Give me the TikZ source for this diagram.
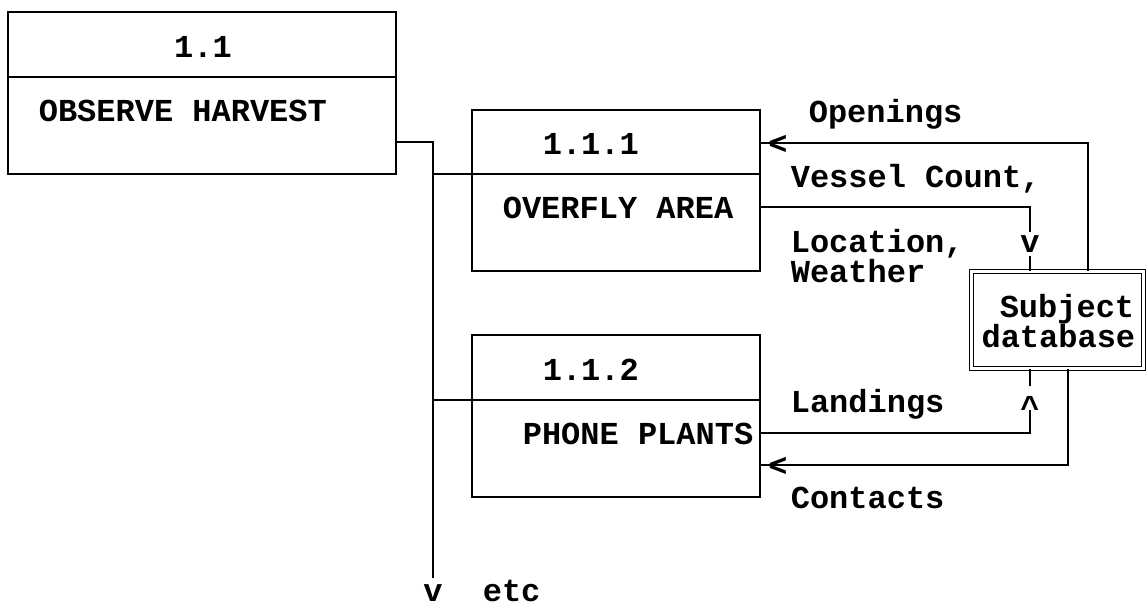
\documentclass[tikz,border=0pt]{standalone}
\usepackage{fontspec}
\setmainfont{Liberation Mono}
\begin{document}
\begin{tikzpicture}[x=1pt,y=-1pt,line width=1.6pt,
  box/.style={draw, rectangle, inner sep=0},
  dbbox/.style={draw, rectangle, inner sep=0, double, double distance=2.6pt, line width=1.3pt},
  txt/.style={inner sep=0, anchor=base west, font=\fontsize{32}{32}\selectfont\bfseries},
  ctxt/.style={inner sep=0, anchor=base, font=\fontsize{32}{32}\selectfont\bfseries}]
\useasboundingbox (0,0) rectangle (1147,606);
% boxes
\node[box, minimum width=388pt, minimum height=162pt] (b11) at (202,93) {};
\node[box, minimum width=288pt, minimum height=161pt] (b111) at (616,190.5) {};
\node[box, minimum width=288pt, minimum height=162pt] (b112) at (616,416) {};
\node[dbbox, minimum width=172pt, minimum height=97pt] (db) at (1057.5,320) {};
% dividers
\coordinate (d11) at (8,77);
\coordinate (d111) at (472,174);
\coordinate (d112) at (472,400);
\draw (b11.west |- d11) -- (b11.east |- d11);
\draw (b111.west |- d111) -- (b111.east |- d111);
\draw (b112.west |- d112) -- (b112.east |- d112);
% box texts
\node[ctxt] (t11) at (203,57) {1.1};
\node[txt] (n11) at (38,121) {OBSERVE HARVEST};
\node[txt] (t111) at (542,154) {1.1.1};
\node[txt] (n111) at (502,218) {OVERFLY AREA};
\node[txt] (t112) at (542,380) {1.1.2};
\node[txt] (n112) at (522,444) {PHONE PLANTS};
\node[txt, anchor=base east] (s1) at (1135,317) {Subject};
\node[txt, anchor=base east] (s2) at (1136,347) {database};
% main trunk
\coordinate (j) at (433,142);
\node[ctxt] (vb) at (433,601) {v};
\node[txt] (etc) at (482,601) {etc};
\coordinate (trunkend) at (433,578);
\draw (b11.east |- j) -- (j) -- (trunkend);
\draw (j |- d111) -- (d111);
\draw (j |- d112) -- (d112);
% Openings
\coordinate (op) at (1088,143);
\draw (b111.east |- op) -- (op) -- (op |- db.north);
\node[ctxt] (lt1) at (778,154) {<};
\node[txt] (lop) at (808,122) {Openings};
% Vessel count
\coordinate (vc) at (1030,207);
\coordinate (vc2) at (1030,232);
\coordinate (vc3) at (1030,256);
\draw (b111.east |- vc) -- (vc) -- (vc2);
\draw (vc3) -- (vc3 |- db.north);
\node[ctxt] (v1) at (1030,252) {v};
\node[txt] (lvc) at (790,187) {Vessel Count,};
\node[txt] (llo) at (790,252) {Location,};
\node[txt] (lwe) at (790,282) {Weather};
% Landings
\coordinate (la) at (1030,433);
\coordinate (la2) at (1030,410);
\coordinate (la3) at (1030,386);
\draw (b112.east |- la) -- (la) -- (la2);
\draw (la3) -- (la3 |- db.south);
\node[ctxt] (up) at (1030,418) {\^{}};
\node[txt] (lla) at (790,412) {Landings};
% Contacts
\coordinate (co) at (1068,465);
\draw (co |- db.south) -- (co) -- (b112.east |- co);
\node[ctxt] (lt2) at (778,476) {<};
\node[txt] (lco) at (790,508) {Contacts};
\end{tikzpicture}
\end{document}
